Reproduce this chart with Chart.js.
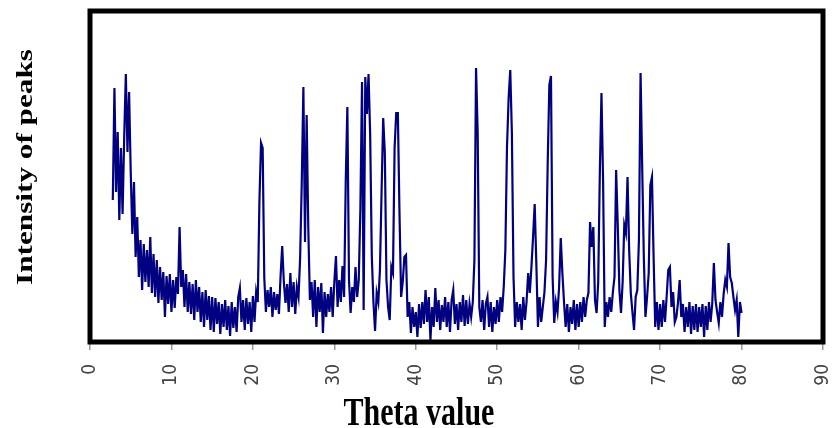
<!DOCTYPE html>
<html>
<head>
<meta charset="utf-8">
<script src="https://cdn.jsdelivr.net/npm/chart.js@4"></script>
<style>
html, body { margin: 0; padding: 0; background: #fff; }
#wrap { width: 838px; height: 428px; }
</style>
</head>
<body>
<div id="wrap"><canvas id="xrd-chart"></canvas></div>
<script>
const xTitle = 'Theta value'
const yTitle = 'Intensity of peaks'

/* intensity, one array per 5 degrees, step 0.2 */
const thetaStart = 2.8
const thetaStep = 0.2
const i03 = [142, 254, 150, 210, 122, 194, 128, 205, 268, 190, 250]
const i05 = [170, 108, 160, 85, 125, 65, 102, 52, 98, 60, 92, 55, 105, 49, 88, 45, 82, 39, 75, 42, 70, 25, 66, 38, 68]
const i10 = [30, 62, 34, 65, 48, 115, 55, 72, 35, 68, 30, 60, 28, 58, 22, 62, 30, 55, 20, 50, 15, 52, 22, 46, 12]
const i15 = [45, 10, 44, 18, 40, 8, 38, 15, 42, 12, 36, 6, 40, 14, 35, 10, 45, 54, 20, 42, 12, 44, 18, 40, 10]
const i20 = [46, 20, 50, 40, 140, 199, 194, 64, 30, 52, 35, 55, 25, 50, 32, 48, 28, 66, 96, 60, 39, 58, 30, 69, 35]
const i25 = [60, 28, 55, 45, 84, 159, 255, 100, 227, 115, 42, 60, 25, 62, 15, 55, 30, 59, 9, 50, 25, 48, 30, 55, 25]
const i30 = [60, 86, 35, 62, 40, 76, 45, 160, 235, 62, 29, 55, 40, 75, 45, 62, 134, 260, 32, 265, 228, 268, 207, 86, 40]
const i35 = [11, 49, 40, 72, 150, 224, 189, 62, 35, 22, 75, 69, 194, 229, 229, 129, 45, 60, 85, 87, 25, 40, 9, 35, 15]
const i40 = [30, 5, 38, 14, 40, 18, 52, 20, 45, 2, 35, 15, 54, 20, 42, 12, 37, 20, 45, 15, 40, 10, 42, 52, 18]
const i45 = [38, 12, 40, 20, 47, 16, 42, 18, 38, 25, 40, 82, 274, 209, 35, 20, 42, 12, 38, 45, 15, 40, 10, 35, 18]
const i50 = [42, 20, 45, 30, 55, 92, 195, 244, 272, 209, 65, 15, 40, 20, 38, 12, 45, 22, 40, 69, 49, 75, 105, 138, 79]
const i55 = [15, 45, 20, 35, 50, 82, 180, 257, 266, 65, 19, 40, 30, 55, 104, 69, 40, 15, 38, 10, 35, 18, 42, 12, 38]
const i60 = [15, 40, 20, 45, 25, 42, 49, 120, 95, 115, 42, 29, 60, 170, 249, 160, 15, 40, 25, 45, 30, 50, 65, 172, 117]
const i65 = [52, 29, 60, 117, 109, 165, 92, 49, 30, 12, 45, 52, 102, 269, 175, 85, 25, 45, 69, 157, 165, 85, 15, 40, 12]
const i70 = [38, 15, 42, 20, 45, 72, 75, 35, 50, 20, 25, 40, 62, 25, 38, 10, 35, 15, 40, 8, 36, 12, 38, 10, 35]
const i75 = [15, 38, 5, 36, 12, 40, 20, 38, 79, 42, 30, 19, 40, 25, 48, 62, 55, 99, 65, 59, 45, 32, 42, 5, 40, 29]

const intensity = [].concat(i03, i05, i10, i15, i20, i25, i30, i35, i40, i45, i50, i55, i60, i65, i70, i75)
const points = intensity.map((v, k) => ({ x: +(thetaStart + k * thetaStep).toFixed(1), y: v }))

// black frame round the plot + the two axis titles
const framePlugin = {
    id: 'frame',
    afterDraw(chart) {
        const ctx = chart.ctx
        const a = chart.chartArea
        ctx.save()
        ctx.strokeStyle = '#000'
        ctx.lineWidth = 5
        ctx.strokeRect(a.left, a.top, a.right - a.left, a.bottom - a.top)

        ctx.fillStyle = '#000'
        ctx.textAlign = 'center'
        ctx.textBaseline = 'alphabetic'

        ctx.save()
        ctx.font = 'bold 30px "Liberation Serif", "Times New Roman", serif'
        ctx.translate(chart.width / 2, 425)
        ctx.scale(1, 1.33)
        ctx.fillText(xTitle, 0, 0)
        ctx.restore()

        ctx.save()
        ctx.font = 'bold 24px "Liberation Serif", "Times New Roman", serif'
        ctx.translate(32, 167)
        ctx.rotate(-Math.PI / 2)
        ctx.scale(1.3, 1)
        ctx.fillText(yTitle, 0, 0)
        ctx.restore()

        ctx.restore()
    }
}

new Chart(document.getElementById('xrd-chart'), {
    type: 'line',
    data: {
        datasets: [
            {
                data: points,
                borderColor: '#000080',
                borderWidth: 2.2,
                pointRadius: 0,
                tension: 0,
                fill: false
            }
        ]
    },
    options: {
        responsive: true,
        maintainAspectRatio: false,
        animation: false,
        layout: { padding: { left: 90, top: 11, right: 15, bottom: 0 } },
        plugins: {
            legend: { display: false },
            tooltip: { enabled: false }
        },
        scales: {
            x: {
                type: 'linear',
                min: 0,
                max: 90,
                ticks: {
                    stepSize: 10,
                    autoSkip: false,
                    minRotation: 90,
                    maxRotation: 90,
                    padding: 14,
                    color: '#444',
                    font: { family: '"DejaVu Sans Condensed", "DejaVu Sans", sans-serif', size: 19 }
                },
                grid: { drawOnChartArea: false, drawTicks: true, tickLength: 8, color: '#999', lineWidth: 1.5 },
                border: { display: false },
                afterFit: s => {
                    s.height = 86
                    s.paddingLeft = 0
                    s.paddingRight = 0
                }
            },
            y: {
                display: false,
                min: 0,
                max: 331
            }
        }
    },
    plugins: [framePlugin]
});
</script>
</body>
</html>
